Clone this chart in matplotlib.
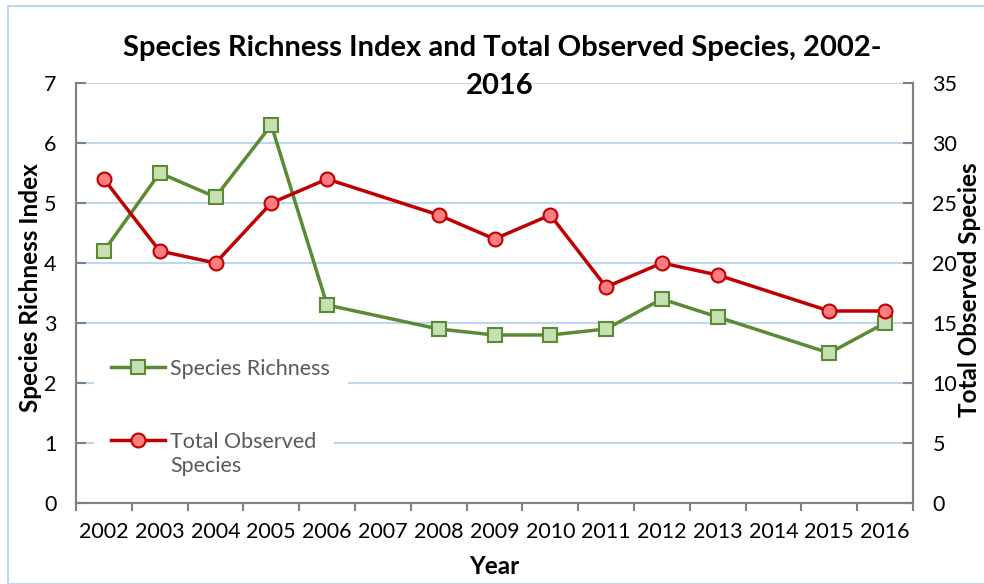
import numpy as np
import matplotlib.pyplot as plt
from matplotlib.patches import Rectangle
from matplotlib.lines import Line2D

plt.rcParams['font.family'] = ['Lato', 'DejaVu Sans']

years = ["2002", "2003", "2004", "2005", "2006", "2007", "2008", "2009",
         "2010", "2011", "2012", "2013", "2014", "2015", "2016"]
# no survey in 2007 and 2014
richness_years = ["2002", "2003", "2004", "2005", "2006", "2008", "2009",
                  "2010", "2011", "2012", "2013", "2015", "2016"]
richness = [4.2, 5.5, 5.1, 6.3, 3.3, 2.9, 2.8, 2.8, 2.9, 3.4, 3.1, 2.5, 3.0]
observed = [27, 21, 20, 25, 27, 24, 22, 24, 18, 20, 19, 16, 16]

GREEN = "#5A8A32"
GREEN_FACE = "#C6E0B4"
RED = "#C00000"
RED_FACE = "#FF7C80"
GRID = "#BDD7EE"
SPINE = "#808080"

fig = plt.figure(figsize=(9.84, 5.84), dpi=100)
fig.patches.append(Rectangle((8 / 984, 0.0), 1.0, 1 - 6 / 584, transform=fig.transFigure,
                             fill=False, edgecolor="#BDD7EE", linewidth=1.5))

ax = fig.add_axes([76 / 984, 81 / 584, (913 - 76) / 984, (503 - 83) / 584])
ax2 = ax.twinx()

xpos = [years.index(y) for y in richness_years]

ax.plot(xpos, richness, color=GREEN, lw=2.5, marker="s", ms=10,
        mfc=GREEN_FACE, mec=GREEN, mew=1.5, zorder=3)
ax2.plot(xpos, observed, color=RED, lw=2.5, marker="o", ms=10,
         mfc=RED_FACE, mec=RED, mew=1.5, zorder=3)

ax.set_ylim(0, 7)
ax2.set_ylim(0, 35)
ax.set_xlim(-0.5, len(years) - 0.5)
ax.set_yticks(range(0, 8))
ax2.set_yticks(range(0, 36, 5))
ax.grid(axis="y", color=GRID, lw=1.5)
ax.set_axisbelow(True)

# category axis: ticks on boundaries, labels in the middle
ax.set_xticks(np.arange(-0.5, len(years), 1))
ax.set_xticklabels([])
ax.set_xticks(range(len(years)), minor=True)
ax.set_xticklabels(years, minor=True)
ax.tick_params(axis="x", which="major", direction="out", length=6, width=1.5, color=SPINE)
ax.tick_params(axis="x", which="minor", length=0, labelsize=15.5, pad=14)
ax.tick_params(axis="y", direction="in", length=7, width=1.5, color=SPINE, labelsize=15.5, pad=14)
ax2.tick_params(axis="y", direction="in", length=7, width=1.5, color=SPINE, labelsize=15.5, pad=14)

for a in (ax, ax2):
    a.spines["top"].set_visible(False)
    for s in ("left", "right", "bottom"):
        a.spines[s].set_color(SPINE)
        a.spines[s].set_linewidth(1.5)

ax.set_xlabel("Year", fontsize=17.5, fontweight="bold", va="center")
ax.xaxis.set_label_coords(0.5, -(567 - 503) / 420)
ax.set_ylabel("Species Richness Index", fontsize=17.5, fontweight="bold", va="center")
ax.yaxis.set_label_coords(-(76 - 31) / 837, (503 - 288) / 420)
ax2.set_ylabel("Total Observed Species", fontsize=17.5, fontweight="bold", va="center")
ax2.yaxis.set_label_coords((969 - 76) / 837, (503 - 290) / 420)

fig.text(0.51, 1 - 48 / 584, "Species Richness Index and Total Observed Species, 2002-",
         ha="center", va="center", fontsize=21, fontweight="bold")
fig.text(0.508, 1 - 86 / 584, "2016", ha="center", va="center", fontsize=21, fontweight="bold")

# legend: two pieces so the red marker sits on the first line of its wrapped label
green_handle = Line2D([], [], color=GREEN, lw=2.5, marker="s", ms=10,
                      mfc=GREEN_FACE, mec=GREEN, mew=1.5)
red_handle = Line2D([], [], color=RED, lw=2.5, marker="o", ms=10,
                    mfc=RED_FACE, mec=RED, mew=1.5)
blank_handle = Line2D([], [], linestyle="none")

leg_kw = dict(loc="center left", frameon=True, fontsize=15.5, handlelength=2.5,
              handletextpad=0.25, borderpad=0.8, borderaxespad=0, labelcolor="#595959")
leg_x = (111 - 17 - 76) / 837

leg1 = ax2.legend([green_handle], ["Species Richness"],
                  bbox_to_anchor=(leg_x, (503 - 369) / 420), **leg_kw)
leg2 = ax2.legend([red_handle, blank_handle], ["Total Observed", "Species"],
                  bbox_to_anchor=(leg_x, (503 - 454) / 420), labelspacing=0.22, **leg_kw)
for leg in (leg1, leg2):
    leg.get_frame().set_edgecolor("none")
    leg.get_frame().set_facecolor("white")
    leg.get_frame().set_alpha(1.0)
    leg.set_zorder(10)
ax2.add_artist(leg1)

fig.savefig("out.png", dpi=100)
